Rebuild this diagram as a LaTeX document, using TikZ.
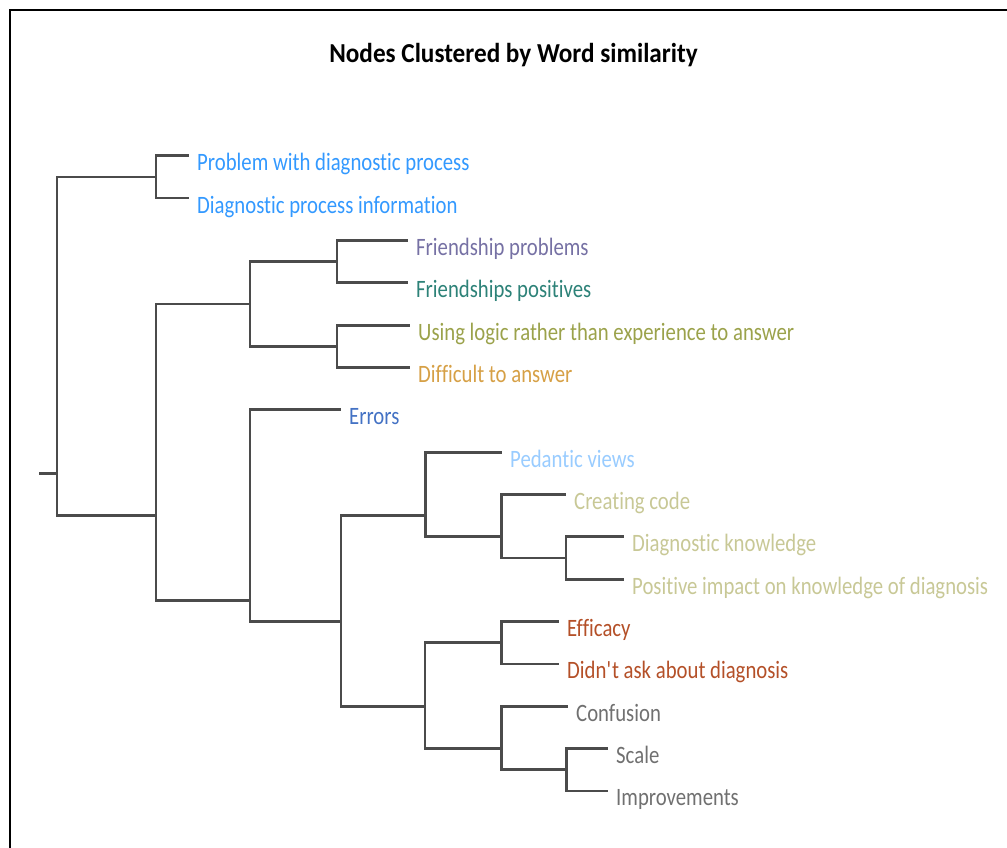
\documentclass[tikz,border=0pt]{standalone}
\usepackage{fontspec}
\setmainfont[FakeStretch=0.83,Ligatures=NoCommon]{Carlito}
\newfontfamily\titlefont[FakeStretch=0.92,Ligatures=NoCommon]{Carlito}
\definecolor{cProb}{RGB}{51,153,255}
\definecolor{cFrProb}{RGB}{118,113,164}
\definecolor{cFrPos}{RGB}{45,130,120}
\definecolor{cLogic}{RGB}{155,162,75}
\definecolor{cDiff}{RGB}{214,160,70}
\definecolor{cErr}{RGB}{68,114,196}
\definecolor{cPed}{RGB}{153,204,255}
\definecolor{cKhaki}{RGB}{200,200,150}
\definecolor{cEff}{RGB}{180,80,40}
\definecolor{cGray}{RGB}{112,112,112}
\definecolor{cLine}{RGB}{75,75,75}
\tikzset{
  leaf/.style={anchor=west, inner xsep=9pt, inner ysep=0pt, text height=30pt, text depth=0pt, font=\fontsize{25}{29}\selectfont},
  branch/.style={draw=cLine, line width=2.8pt, line cap=rect},
  frameline/.style={draw=black, line width=2pt},
  title/.style={font=\titlefont\fontsize{27.4}{31}\selectfont\bfseries}
}
\begin{document}
\begin{tikzpicture}[x=1pt,y=-1pt]
\useasboundingbox (0,0) rectangle (1007,847);
\draw[frameline] (1008,10) -- (9.5,10) -- (9.5,848);
\node[title] (title) at (513.5,55) {Nodes Clustered by Word similarity};
% leaves
\node[leaf, text=cProb]   (l0)  at (188,155.7)  {Problem with diagnostic process};
\node[leaf, text=cProb]   (l1)  at (188,198.05) {Diagnostic process information};
\node[leaf, text=cFrProb] (l2)  at (407,240.4)  {Friendship problems};
\node[leaf, text=cFrPos]  (l3)  at (407,282.75) {Friendships positives};
\node[leaf, text=cLogic]  (l4)  at (409,325.1)  {Using logic rather than experience to answer};
\node[leaf, text=cDiff]   (l5)  at (409,367.45) {Difficult to answer};
\node[leaf, text=cErr]    (l6)  at (340,409.8)  {Errors};
\node[leaf, text=cPed]    (l7)  at (501,452.15) {Pedantic views};
\node[leaf, text=cKhaki]  (l8)  at (565,494.5)  {Creating code};
\node[leaf, text=cKhaki]  (l9)  at (623,536.85) {Diagnostic knowledge};
\node[leaf, text=cKhaki]  (l10) at (623,579.2)  {Positive impact on knowledge of diagnosis};
\node[leaf, text=cEff]    (l11) at (558,621.55) {Efficacy};
\node[leaf, text=cEff]    (l12) at (558,663.9)  {Didn\textquotesingle t ask about diagnosis};
\node[leaf, text=cGray]   (l13) at (567,706.25) {Confusion};
\node[leaf, text=cGray]   (l14) at (607,748.6)  {Scale};
\node[leaf, text=cGray]   (l15) at (607,790.95) {Improvements};
% internal nodes
\coordinate (stub) at (40,473.3);
\coordinate (root) at (57,473.3);
\coordinate (A)  at (156,176.9);
\coordinate (B)  at (156,515.7);
\coordinate (C)  at (250,303.9);
\coordinate (D)  at (250,600.4);
\coordinate (C1) at (337,261.6);
\coordinate (C2) at (337,346.3);
\coordinate (D2) at (341,621.55);
\coordinate (E)  at (425.5,515.7);
\coordinate (F)  at (425,706.25);
\coordinate (E2) at (501.5,536.85);
\coordinate (E3) at (566,558.0);
\coordinate (F1) at (501.7,642.7);
\coordinate (F2) at (501.7,748.6);
\coordinate (F3) at (566.7,769.8);
% branches
\draw[branch] (stub) -- (root);
\draw[branch] (A) -| (root) |- (B);
\draw[branch] (l0.west) -| (A) |- (l1.west);
\draw[branch] (C) -| (B) |- (D);
\draw[branch] (C1) -| (C) |- (C2);
\draw[branch] (l2.west) -| (C1) |- (l3.west);
\draw[branch] (l4.west) -| (C2) |- (l5.west);
\draw[branch] (l6.west) -| (D) |- (D2);
\draw[branch] (E) -| (D2) |- (F);
\draw[branch] (l7.west) -| (E) |- (E2);
\draw[branch] (l8.west) -| (E2) |- (E3);
\draw[branch] (l9.west) -| (E3) |- (l10.west);
\draw[branch] (F1) -| (F) |- (F2);
\draw[branch] (l11.west) -| (F1) |- (l12.west);
\draw[branch] (l13.west) -| (F2) |- (F3);
\draw[branch] (l14.west) -| (F3) |- (l15.west);
\end{tikzpicture}
\end{document}
